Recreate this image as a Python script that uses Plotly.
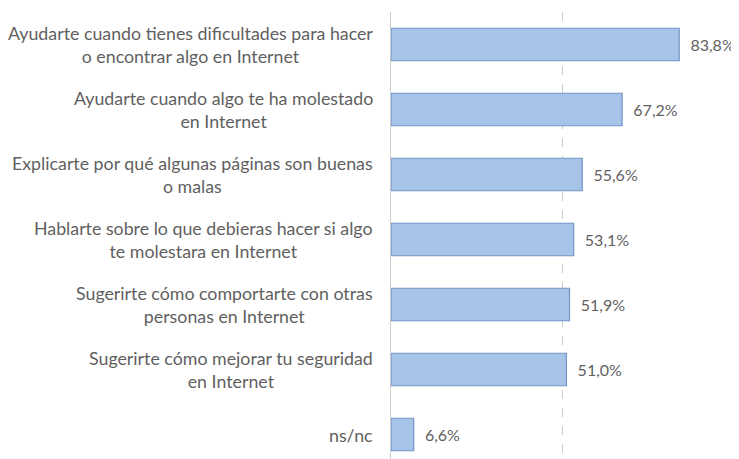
import plotly.graph_objects as go

categories = [
    "Ayudarte cuando tienes dificultades para hacer<br>o encontrar algo en Internet",
    "Ayudarte cuando algo te ha molestado<br>en Internet",
    "Explicarte por qué algunas páginas son buenas<br>o malas",
    "Hablarte sobre lo que debieras hacer si algo<br>te molestara en Internet",
    "Sugerirte cómo comportarte con otras<br>personas en Internet",
    "Sugerirte cómo mejorar tu seguridad<br>en Internet",
    "ns/nc",
]
values = [83.8, 67.2, 55.6, 53.1, 51.9, 51.0, 6.6]
grid_values = [50, 100]

positions = list(range(len(categories)))
FONT = "Lato"
GRAY = "#5f5f5f"
GRID = "#cccccc"

fig = go.Figure()
fig.add_trace(go.Bar(
    x=values,
    y=positions,
    orientation="h",
    width=0.5,
    marker=dict(color="#a7c3e8", line=dict(color="#7196c6", width=1.2)),
    texttemplate="\u00a0\u00a0%{x:.1f}%",
    textposition="outside",
    cliponaxis=False,
    textfont=dict(family=FONT, size=16, color=GRAY),
    hoverinfo="skip",
))

annotations = []
for p, c in zip(positions, categories):
    annotations.append(dict(
        x=-0.046, xref="paper", y=p, yref="y",
        text=c, showarrow=False, xanchor="right", yanchor="middle",
        align="center", font=dict(family=FONT, size=17.8, color=GRAY),
    ))

# page body adds an 8px offset; figure sized to compensate
fig.update_layout(
    width=731, height=451,
    margin=dict(l=383, r=2, t=4, b=0),
    paper_bgcolor="white", plot_bgcolor="white",
    separators=",.",
    showlegend=False,
    annotations=annotations,
    font=dict(family=FONT, color=GRAY),
)
fig.update_xaxes(
    range=[0, 100.6], tickvals=grid_values, showticklabels=False,
    showgrid=True, gridcolor=GRID, griddash="dash", gridwidth=1,
    zeroline=False, showline=False, ticks="",
)
fig.update_yaxes(
    range=[-0.5 + 447 / 65, -0.5], showticklabels=False,
    showgrid=False, zeroline=False, showline=True, linecolor=GRID,
    linewidth=1, ticks="",
)

fig.write_html("out.html")
